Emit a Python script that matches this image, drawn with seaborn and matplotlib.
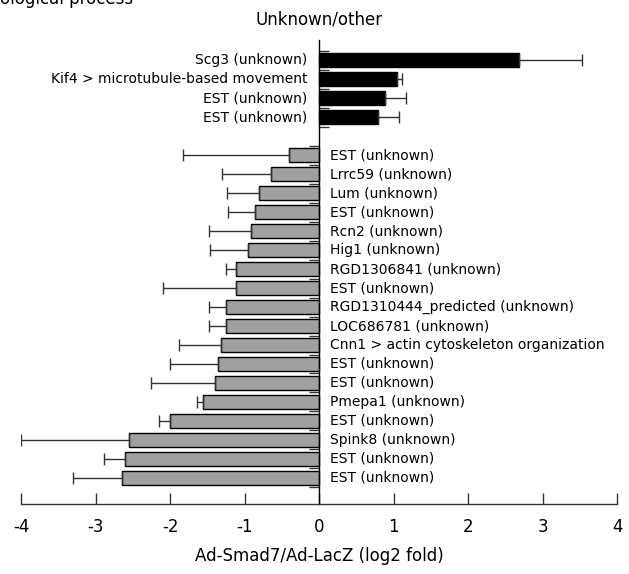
import numpy as np
import pandas as pd
import matplotlib
matplotlib.use("Agg")
import matplotlib.pyplot as plt
import seaborn as sns
from matplotlib.transforms import offset_copy

# ---- data ----
up_genes = ["Scg3 (unknown)", "Kif4 > microtubule-based movement",
            "EST (unknown)", "EST (unknown)"]
up_values = [2.69, 1.04, 0.89, 0.79]
up_errors = [0.84, 0.07, 0.28, 0.28]

down_genes = ["EST (unknown)", "Lrrc59 (unknown)", "Lum (unknown)", "EST (unknown)",
              "Rcn2 (unknown)", "Hig1 (unknown)", "RGD1306841 (unknown)", "EST (unknown)",
              "RGD1310444_predicted (unknown)", "LOC686781 (unknown)",
              "Cnn1 > actin cytoskeleton organization", "EST (unknown)", "EST (unknown)",
              "Pmepa1 (unknown)", "EST (unknown)", "Spink8 (unknown)", "EST (unknown)",
              "EST (unknown)"]
down_values = [-0.40, -0.65, -0.80, -0.86, -0.91, -0.95, -1.11, -1.11, -1.25, -1.25,
               -1.31, -1.35, -1.40, -1.56, -2.00, -2.55, -2.60, -2.65]
down_errors = [1.43, 0.65, 0.44, 0.36, 0.57, 0.51, 0.14, 0.99, 0.23, 0.23,
               0.57, 0.65, 0.86, 0.08, 0.15, 1.45, 0.29, 0.65]

x_ticks = [-4, -3, -2, -1, 0, 1, 2, 3, 4]
title = "Unknown/other"
xlabel = "Ad-Smad7/Ad-LacZ (log2 fold)"
header = "Biological process"

# ---- style ----
sns.set_theme(style="white")
plt.rcParams["font.family"] = ["DejaVu Sans"]
plt.rcParams["axes.unicode_minus"] = False
plt.rcParams["text.color"] = "black"
plt.rcParams["axes.labelcolor"] = "black"
plt.rcParams["xtick.color"] = "black"
plt.rcParams["ytick.color"] = "black"

up_pos = np.arange(len(up_genes))
down_pos = np.arange(len(down_genes)) + len(up_genes) + 1

df = pd.DataFrame({
    "pos": np.concatenate([up_pos, down_pos]).astype(float),
    "value": up_values + down_values,
    "group": ["up"] * len(up_genes) + ["down"] * len(down_genes),
})

fig = plt.figure(figsize=(6.29, 5.74), dpi=100)
ax = fig.add_axes([0.0334, 0.122, 0.9476, 0.809])

sns.barplot(data=df, x="value", y="pos", hue="group", orient="y", native_scale=True,
            palette={"up": "black", "down": "#a0a0a0"}, dodge=False, width=0.7,
            edgecolor="black", linewidth=1.0, errorbar=None, legend=False, ax=ax)

# one-sided error bars
ax.errorbar(up_values, up_pos, xerr=[np.zeros(len(up_errors)), up_errors],
            fmt="none", ecolor="#333333", elinewidth=1.0, capsize=4, capthick=1.0)
ax.errorbar(down_values, down_pos, xerr=[down_errors, np.zeros(len(down_errors))],
            fmt="none", ecolor="#333333", elinewidth=1.0, capsize=4, capthick=1.0)

ax.set_xlim(-4, 4)
ax.set_ylim(23.37, -1.08)

# spines
for s in ["top", "right"]:
    ax.spines[s].set_visible(False)
ax.spines["left"].set_position(("data", 0))
ax.spines["left"].set_color("black")
ax.spines["bottom"].set_color("#333333")
ax.spines["left"].set_linewidth(1.0)
ax.spines["bottom"].set_linewidth(1.0)

# y ticks at category boundaries
ax.set_yticks(np.arange(len(up_genes) + 1) - 0.5)
ax.set_yticks(np.arange(len(down_genes) + 1) + down_pos[0] - 0.5, minor=True)
ax.tick_params(axis="y", which="major", direction="in", length=7, width=1,
               left=True, labelleft=False, color="#333333")
ax.tick_params(axis="y", which="minor", direction="out", length=7, width=1,
               left=True, labelleft=False, color="#333333")
ax.set_ylabel("")

ax.set_xticks(x_ticks)
ax.set_xticklabels([str(t) for t in x_ticks])
ax.tick_params(axis="x", direction="in", length=8, width=1, bottom=True,
               labelsize=12, pad=10, color="#333333", labelcolor="black")
ax.set_xlabel(xlabel, fontsize=12, labelpad=8, color="black")

# gene labels
tr_left = offset_copy(ax.transData, fig=fig, x=-12, y=0, units="dots")
tr_right = offset_copy(ax.transData, fig=fig, x=11, y=0, units="dots")
for g, p in zip(up_genes, up_pos):
    ax.text(0, p, g, ha="right", va="center", fontsize=10, color="black",
            transform=tr_left)
for g, p in zip(down_genes, down_pos):
    ax.text(0, p, g, ha="left", va="center", fontsize=10, color="black",
            transform=tr_right)

ax.set_title(title, fontsize=12, pad=11, color="black")
fig.text(-0.026, 1 - 4 / 574, header, fontsize=12, ha="left", va="baseline",
         color="black")

fig.savefig("out.png", dpi=100)
